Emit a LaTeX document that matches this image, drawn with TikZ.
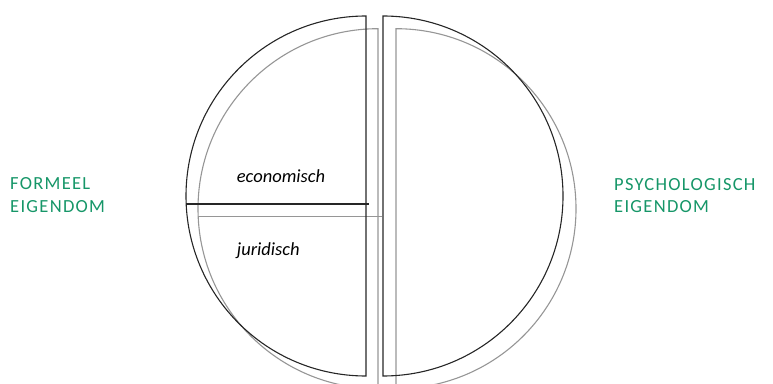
\documentclass[tikz,border=0pt]{standalone}
\usepackage{fontspec}
\setmainfont{Carlito}
\definecolor{labgreen}{RGB}{22,150,104}
\definecolor{shadegray}{RGB}{150,150,150}
\tikzset{
  blackline/.style={draw=black!85, line width=1.1pt},
  grayline/.style={draw=shadegray, line width=1.1pt},
  greenlab/.style={text=labgreen, inner sep=0pt, anchor=base west, font=\fontsize{18.5}{22}\selectfont\addfontfeature{LetterSpace=7}},
  itallab/.style={inner sep=0pt, anchor=base west, font=\fontsize{18.5}{22}\selectfont\itshape}
}
\begin{document}
\begin{tikzpicture}[x=1pt,y=1pt]
\useasboundingbox (0,0) rectangle (773,383);
\begin{scope}
\clip (0,0) rectangle (773,383);
% gray (shadow) halves
\draw[grayline] (378,354.3) arc (90:270:180) -- cycle;
\draw[grayline] (396,354.3) arc (90:-90:180) -- cycle;
\draw[grayline] (198.2,166.3) -- (381.7,166.3);
% black halves
\draw[blackline] (366,367) arc (90:270:180) -- cycle;
\draw[blackline] (383,367) arc (90:-90:180) -- cycle;
\draw[blackline] (186.2,179) -- (369,179);
\end{scope}
\node[itallab] (eco) at (236.7,200.7) {economisch};
\node[itallab] (jur) at (236.7,127.7) {juridisch};
\node[greenlab] (f1) at (10,193) {FORMEEL};
\node[greenlab] (f2) at (10,170) {EIGENDOM};
\node[greenlab] (p1) at (614,192.3) {PSYCHOLOGISCH};
\node[greenlab] (p2) at (614,170) {EIGENDOM};
\end{tikzpicture}
\end{document}
